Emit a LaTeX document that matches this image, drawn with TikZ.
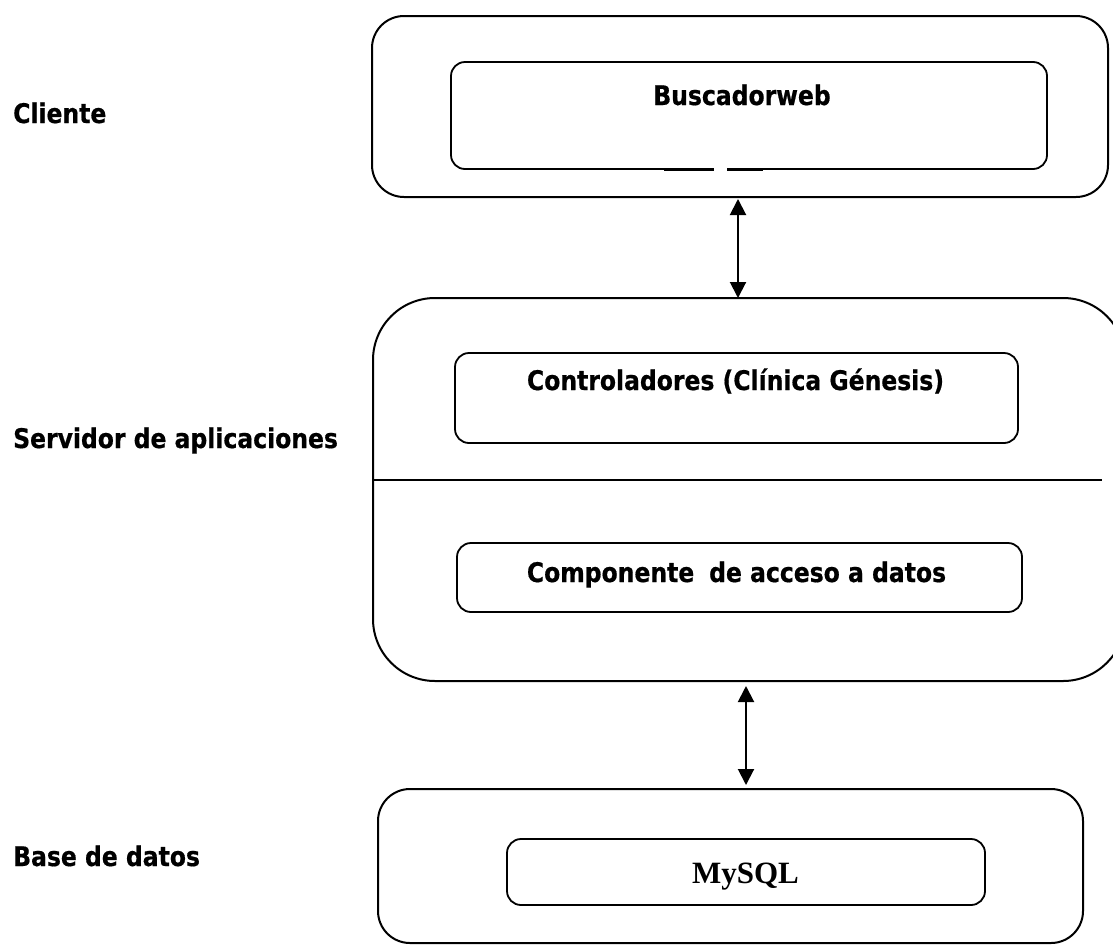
\documentclass[tikz,border=0pt]{standalone}
\usepackage{fontspec}
\newfontfamily\labfont[FakeStretch=0.87,FakeBold=0.6]{DejaVu Sans}
\newfontfamily\serfont{Liberation Serif}
\usetikzlibrary{arrows.meta}
\tikzset{
  outerbox/.style={draw, line width=2pt, rounded corners=32pt, inner sep=0pt, outer sep=0pt},
  innerbox/.style={draw, line width=1.8pt, rounded corners=14pt, inner sep=0pt, outer sep=0pt},
  lab/.style={font=\labfont\bfseries\fontsize{27}{31}\selectfont, inner sep=0pt},
  dbl/.style={line width=2pt, {Triangle[length=16pt,width=16pt]}-{Triangle[length=16pt,width=16pt]}}
}
\begin{document}
\begin{tikzpicture}[x=1pt,y=-1pt]
\useasboundingbox (0,0) rectangle (1113,948);
% outer boxes
\node[outerbox, minimum width=736pt, minimum height=181pt] (top) at (740,106.5) {};
\node[outerbox, rounded corners=62pt, minimum width=752pt, minimum height=383pt] (mid) at (749,489.5) {};
\node[outerbox, minimum width=705pt, minimum height=154pt] (bot) at (730.5,866) {};
% inner boxes
\node[innerbox, minimum width=596pt, minimum height=107pt] (web) at (749,115.5) {};
\node[innerbox, minimum width=563pt, minimum height=90pt] (ctrl) at (736.5,398) {};
\node[innerbox, minimum width=565pt, minimum height=69pt] (comp) at (739.5,577.5) {};
\node[innerbox, minimum width=478pt, minimum height=66pt] (sql) at (746,872) {};
% scan artefact on the bottom edge of the browser box
\coordinate (g1) at (664,169);
\coordinate (g2) at (714,169);
\coordinate (g3) at (727,169);
\coordinate (g4) at (763,169);
\draw[white, line width=3.5pt] (g2) -- (g3);
\draw[line width=3pt] (g1) -- (g2);
\draw[line width=3pt] (g3) -- (g4);
% divider
\coordinate (divR) at (1102,480);
\draw[line width=1.8pt] (mid.west |- divR) -- (divR);
% box texts
\node[lab, anchor=base] (tweb) at (742,105) {Buscadorweb};
\node[lab, anchor=base] (tctrl) at (735.5,390) {Controladores (Clínica Génesis)};
\node[lab, anchor=base] (tcomp) at (736.5,582) {Componente\hspace{0.25em} de acceso a datos};
\node[font=\serfont\bfseries\fontsize{31}{36}\selectfont, inner sep=0pt, anchor=base] (tsql) at (745.5,883) {MySQL};
% side labels
\node[lab, anchor=base west] (lcli) at (13,123) {Cliente};
\node[lab, anchor=base west] (lsrv) at (13,448) {Servidor de aplicaciones};
\node[lab, anchor=base west] (lbd) at (13,866) {Base de datos};
% connectors
\coordinate (ax1) at (738,0);
\coordinate (ax2) at (746,0);
\draw[dbl, shorten <=2pt] (top.south -| ax1) -- (mid.north -| ax1);
\draw[dbl, shorten <=5pt, shorten >=4pt] (mid.south -| ax2) -- (bot.north -| ax2);
\end{tikzpicture}
\end{document}
